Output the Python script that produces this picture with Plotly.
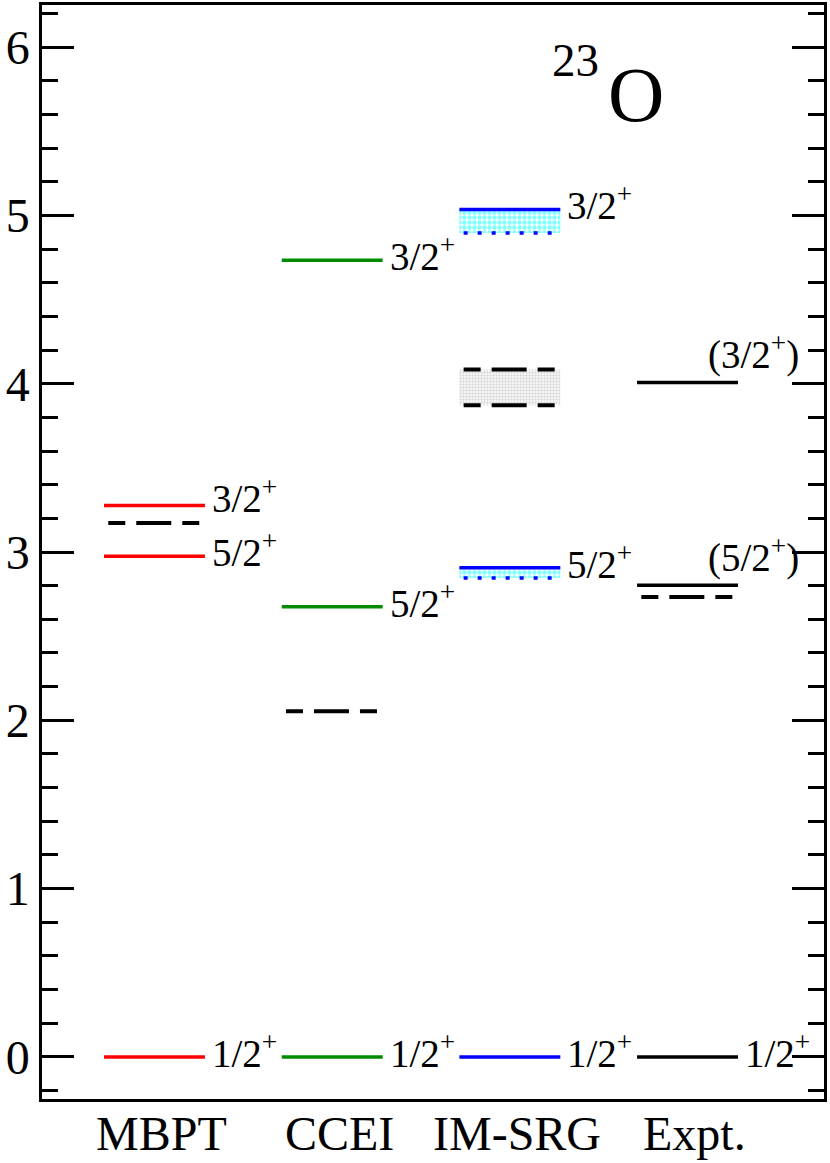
import plotly.graph_objects as go

# level scheme data (MeV)
methods = ["MBPT", "CCEI", "IM-SRG", "Expt."]
method_x = [1, 2, 3, 4]
method_colors = ["#ff0000", "#008b00", "#0000ff", "#000000"]

spins = ["1/2", "5/2", "3/2"]
mbpt_e = [0.0, 2.975, 3.276]
ccei_e = [0.0, 2.674, 4.733]
imsrg_e = [0.0, 2.906, 5.035]
expt_e = [0.0, 2.802, 4.007]

# black dashed levels per method
mbpt_dash = [3.173]
ccei_dash = [2.054]
imsrg_dash = [3.872, 4.084]
expt_dash = [2.733]

# IM-SRG dotted lower edges of the uncertainty bands (5/2+, 3/2+)
imsrg_dot = [2.846, 4.896]

FONT = "Liberation Serif"
HW = 0.284      # half width of a solid level
HW_D = 0.26     # half width of a dashed level
DASH = "17px,11px,35px,11px"

solid = [mbpt_e, ccei_e, imsrg_e, expt_e]
dashed = [mbpt_dash, ccei_dash, imsrg_dash, expt_dash]

fig = go.Figure()


def band(xc, lo, hi, fg, size, solidity):
    fig.add_trace(go.Scatter(
        x=[xc - HW, xc + HW, xc + HW, xc - HW, xc - HW],
        y=[lo, lo, hi, hi, lo],
        mode="lines", fill="toself", line=dict(width=0),
        fillcolor="white",
        fillpattern=dict(shape=".", fgcolor=fg, bgcolor="white",
                         size=size, solidity=solidity),
        hoverinfo="skip", showlegend=False))


# shaded bands for IM-SRG
xi = method_x[2]
band(xi, imsrg_dash[0], imsrg_dash[1], "#b0b0b0", 3, 0.5)
band(xi, imsrg_dot[0], imsrg_e[1], "#00ffff", 5, 0.6)
band(xi, imsrg_dot[1], imsrg_e[2], "#00ffff", 5, 0.6)

# dashed black levels
for xc, levels in zip(method_x, dashed):
    for e in levels:
        fig.add_trace(go.Scatter(
            x=[xc - HW_D, xc + HW_D], y=[e, e], mode="lines",
            line=dict(color="black", width=4, dash=DASH),
            hoverinfo="skip", showlegend=False))

# dotted blue lower edges
for e in imsrg_dot:
    fig.add_trace(go.Scatter(
        x=[xi - HW_D, xi + HW_D], y=[e, e], mode="lines",
        line=dict(color="#0000ff", width=3.5, dash="4px,10px"),
        hoverinfo="skip", showlegend=False))

# solid levels
for xc, levels, col in zip(method_x, solid, method_colors):
    for e in levels:
        fig.add_trace(go.Scatter(
            x=[xc - HW, xc + HW], y=[e, e], mode="lines",
            line=dict(color=col, width=3.5),
            hoverinfo="skip", showlegend=False))

# spin labels
for k, (xc, levels) in enumerate(zip(method_x, solid)):
    for s, e in zip(spins, levels):
        txt = s + "<sup>+</sup>"
        xshift, yshift = 5, 6
        if k == 3 and e > 0:
            txt = "(" + s + "<sup>+</sup>)"
            xshift, yshift = -32, 30
        if k == 0 and s == "3/2":
            yshift = 10
        fig.add_annotation(
            x=xc + HW, y=e, text=txt, showarrow=False,
            xanchor="left", yanchor="middle", xshift=xshift, yshift=yshift,
            font=dict(family=FONT, size=39, color="black"))

# method names under the axis
for xc, name in zip(method_x, methods):
    fig.add_annotation(
        x=xc, y=0, yref="paper", text=name, showarrow=False,
        xanchor="center", yanchor="top", xshift=7, yshift=-6,
        font=dict(family=FONT, size=48, color="black"))

# nucleus label
fig.add_annotation(x=0.682, y=0.950, xref="paper", yref="paper",
                   text="23", showarrow=False, xanchor="center", yanchor="middle",
                   font=dict(family=FONT, size=47, color="black"))
fig.add_annotation(x=0.759, y=0.918, xref="paper", yref="paper",
                   text="O", showarrow=False, xanchor="center", yanchor="middle",
                   font=dict(family=FONT, size=78, color="black"))

fig.update_xaxes(
    range=[0.367, 4.768], showticklabels=False,
    ticks="", showgrid=False, zeroline=False, automargin=False,
    showline=True, linecolor="black", linewidth=2.5, mirror=True)
fig.update_yaxes(
    range=[-0.25, 6.25], tickvals=[0, 1, 2, 3, 4, 5, 6],
    ticks="inside", ticklen=32, tickwidth=2.5, tickcolor="black",
    minor=dict(dtick=0.2, tick0=0, ticks="inside", ticklen=16,
               tickwidth=2.5, tickcolor="black", showgrid=False),
    showgrid=False, zeroline=False, automargin=False,
    showline=True, linecolor="black", linewidth=2.5, mirror="ticks",
    tickfont=dict(family=FONT, size=48, color="black"))

fig.update_layout(
    width=830, height=1163,
    margin=dict(l=42, r=6, t=5, b=64),
    plot_bgcolor="white", paper_bgcolor="white",
    showlegend=False)

# drop the browser's default body margin so the figure sits at the page corner
fig.write_html("out.html", config={"displayModeBar": False},
               post_script="document.body.style.margin = '0';")
